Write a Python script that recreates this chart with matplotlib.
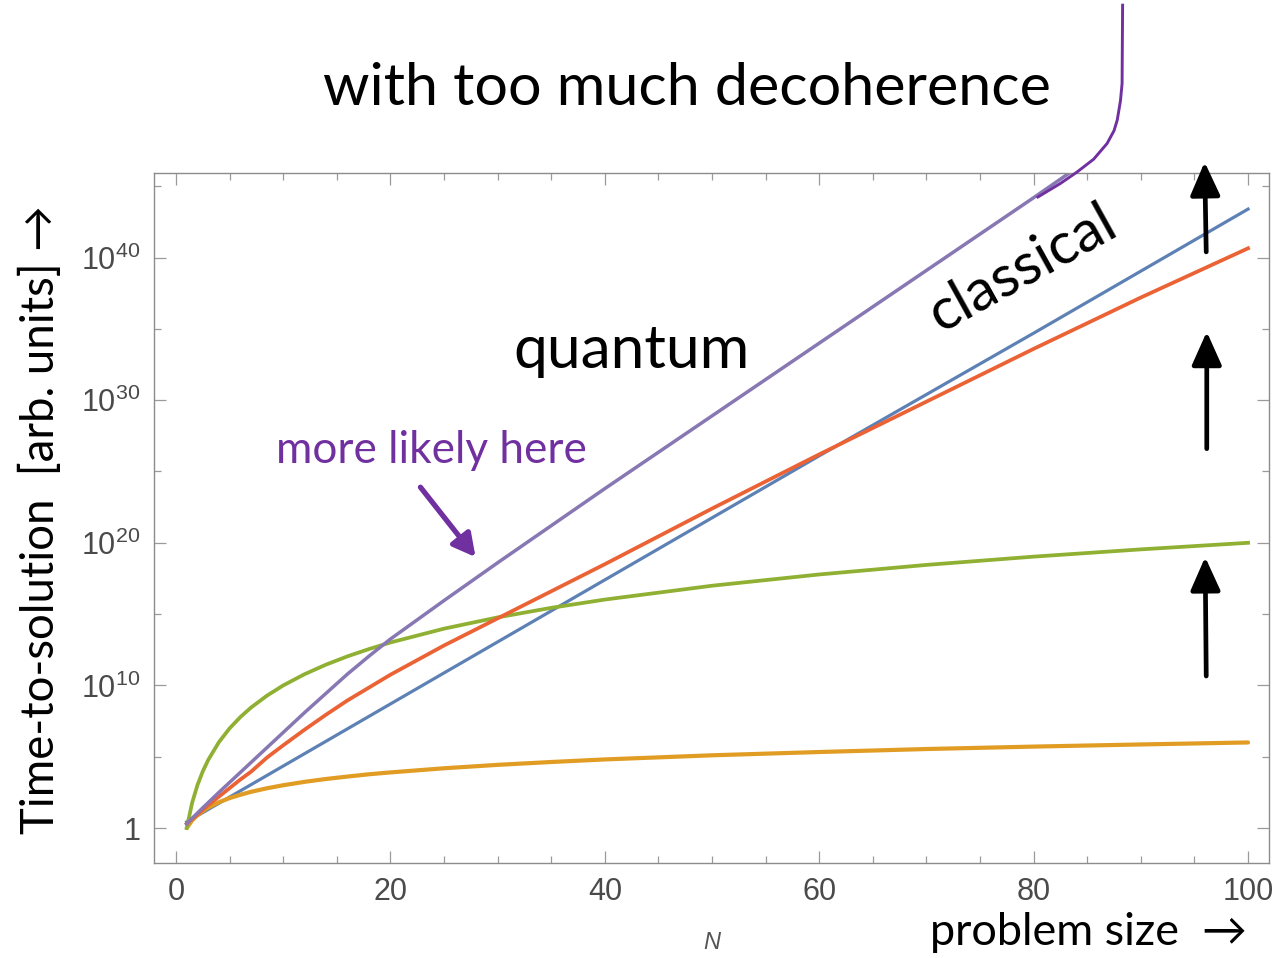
import numpy as np
import matplotlib
matplotlib.use("Agg")
from matplotlib import pyplot as plt
from matplotlib.ticker import FixedLocator, MultipleLocator, NullFormatter

plt.rcParams['font.family'] = ['Lato', 'DejaVu Sans']
plt.rcParams['mathtext.fontset'] = 'custom'
plt.rcParams['mathtext.rm'] = 'Liberation Sans'

# problem size N where each curve was sampled
n_grid = [1, 1.5, 2, 2.5, 3, 4, 5, 6, 7, 8.5, 10, 12, 14, 16, 18, 20, 25, 30,
          35, 40, 50, 60, 70, 80, 90, 100]
# log10 of time-to-solution
exp_green = [0, 1.76, 3.01, 3.98, 4.77, 6.02, 6.99, 7.78, 8.45, 9.29, 10.0,
             10.79, 11.46, 12.04, 12.55, 13.01, 13.98, 14.77, 15.44, 16.02,
             16.99, 17.78, 18.45, 19.03, 19.54, 20.0]
exp_yellow = [0, 0.53, 0.9, 1.19, 1.43, 1.81, 2.1, 2.33, 2.54, 2.79, 3.0,
              3.24, 3.44, 3.61, 3.77, 3.9, 4.19, 4.43, 4.63, 4.81, 5.1, 5.33,
              5.54, 5.71, 5.86, 6.0]
exp_red = [0.3, 0.63, 0.95, 1.28, 1.6, 2.2, 2.8, 3.4, 3.95, 4.95, 5.8, 6.9,
           7.95, 8.95, 9.85, 10.75, 12.8, 14.7, 16.6, 18.5, 22.4, 26.2, 29.9,
           33.6, 37.2, 40.65]

n_blue = [1, 20, 40, 60, 80, 100]
exp_blue = [0.43, 8.7, 17.4, 26.1, 34.7, 43.4]

n_purple = [1, 1.5, 2, 2.5, 3, 4, 5, 6, 7, 8.5, 10, 12, 14, 16, 18, 20, 25,
            30, 35, 40, 50, 60, 70, 80, 85]
exp_purple = [0.3, 0.68, 1.05, 1.42, 1.78, 2.5, 3.2, 3.9, 4.6, 5.65, 6.7, 8.1,
              9.45, 10.8, 12.05, 13.25, 15.95, 18.6, 21.2, 23.8, 28.9, 34.0,
              39.1, 44.2, 46.8]

# hand-drawn blow-up of the quantum curve beyond the frame
n_decoh = [80.4, 82.5, 84.05, 85.6, 86.85, 87.5, 87.8, 88.1, 88.25, 88.3]
exp_decoh = [44.25, 45.2, 46.0, 46.9, 48.0, 48.9, 49.65, 51.0, 52.2, 57.7]

y_decades = [0, 10, 20, 30, 40]
y_minor = [5, 15, 25, 35, 45]
x_major = [0, 20, 40, 60, 80, 100]

c_blue = '#5E81B5'
c_yellow = '#E19C24'
c_green = '#8FB032'
c_red = '#EB6235'
c_purple = '#8778B3'
c_dark = '#7030A0'

fig = plt.figure(figsize=(12.73, 9.58), dpi=100)
ax = fig.add_axes([0.121, 0.0992, 0.8759, 0.7202])

lw = 2.3
ax.plot(n_blue, 10.0 ** np.array(exp_blue), color=c_blue, lw=lw)
ax.plot(n_grid, 10.0 ** np.array(exp_yellow), color=c_yellow, lw=lw + 0.7,
        solid_capstyle='round')
ax.plot(n_grid, 10.0 ** np.array(exp_green), color=c_green, lw=lw + 0.4)
ax.plot(n_grid, 10.0 ** np.array(exp_red), color=c_red, lw=lw + 0.4)
ax.plot(n_purple, 10.0 ** np.array(exp_purple), color=c_purple, lw=lw + 0.2)
ax.plot(n_decoh, 10.0 ** np.array(exp_decoh), color=c_dark, lw=2.1,
        clip_on=False, zorder=5)
ax.set_yscale('log')

ax.set_xlim(-2.05, 101.96)
ax.set_ylim(10 ** -2.45, 10 ** 45.93)

ax.set_xticks(x_major)
ax.xaxis.set_minor_locator(MultipleLocator(5))
ax.yaxis.set_major_locator(FixedLocator([10.0 ** k for k in y_decades]))
ax.yaxis.set_minor_locator(FixedLocator([10.0 ** k for k in y_minor]))
ax.yaxis.set_minor_formatter(NullFormatter())
ax.set_yticklabels(['1'] + [r'$10^{%d}$' % k for k in y_decades[1:]])

for s in ax.spines.values():
    s.set_color('#8c8c8c')
    s.set_linewidth(1.0)
ax.tick_params(which='both', direction='in', top=True, right=True,
               color='#9a9a9a', width=0.9, labelcolor='#4a4a4a',
               labelsize=22, pad=10)
ax.tick_params(which='major', length=8.5)
ax.tick_params(which='minor', length=5)
for lab in ax.get_xticklabels() + ax.get_yticklabels():
    lab.set_family('Liberation Sans')

# annotations
fig.text(0.540, 0.890, 'with too much decoherence', fontsize=42.7,
         ha='center', va='baseline')
ax.text(42.5, 10 ** 32.26, 'quantum', fontsize=43.5, ha='center', va='baseline')
ax.text(79.0, 10 ** 39.2, 'classical', fontsize=42, ha='center', va='center',
        rotation=29, rotation_mode='anchor')
ax.text(9.33, 10 ** 25.6, 'more likely here', fontsize=31.8, color=c_dark,
        ha='left', va='baseline')
ax.annotate('', xy=(27.94, 10 ** 19.0), xytext=(22.8, 10 ** 23.9),
            arrowprops=dict(arrowstyle='-|>,head_length=0.75,head_width=0.4',
                            color=c_dark, lw=3.8, mutation_scale=18,
                            shrinkA=0, shrinkB=0))
for x0, y0, x1, y1 in [(96.1, 10.66, 96.0, 19.0),
                       (96.15, 26.6, 96.15, 34.8),
                       (96.1, 40.4, 95.95, 46.7)]:
    ax.annotate('', xy=(x1, 10 ** y1), xytext=(x0, 10 ** y0),
                annotation_clip=False,
                arrowprops=dict(arrowstyle='-|>,head_length=0.85,head_width=0.38',
                                color='black', lw=3.4, mutation_scale=24,
                                shrinkA=0, shrinkB=0))

fig.text(0.032, 0.458, 'Time-to-solution  [arb. units] \u2192', fontsize=32.8,
         rotation=90, ha='center', va='center')
fig.text(0.855, 0.0136, 'problem size  \u2192', fontsize=32.4,
         ha='center', va='baseline')
fig.text(0.559, 0.0157, 'N', fontsize=17, style='italic', color='#555555',
         family='Liberation Sans', ha='center', va='center')

fig.savefig('out.png', dpi=100)
